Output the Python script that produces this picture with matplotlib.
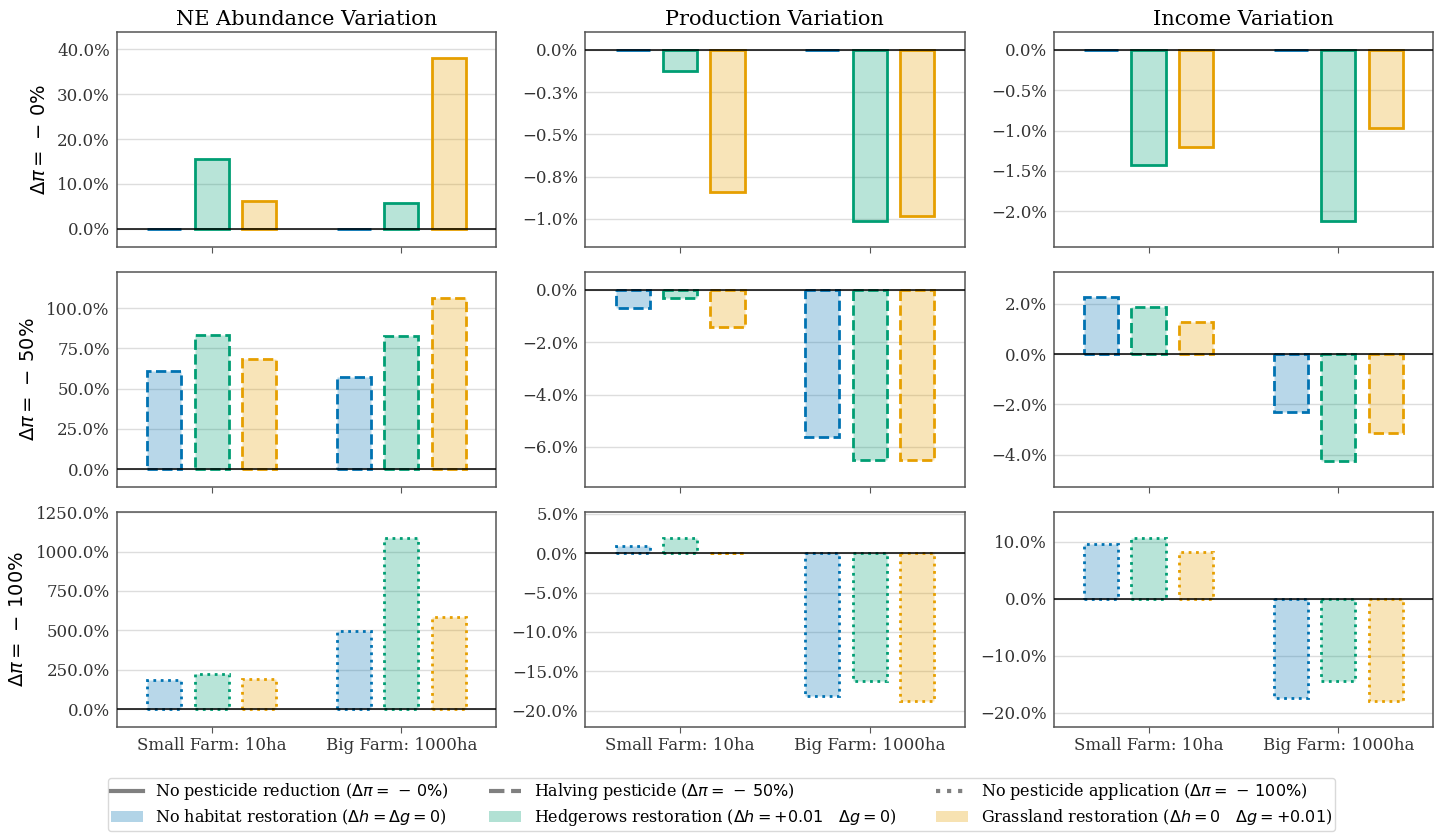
import numpy as np
import matplotlib
matplotlib.use('Agg')
from matplotlib import pyplot as plt
from matplotlib.lines import Line2D
from matplotlib.patches import Patch
from matplotlib.ticker import MultipleLocator, FuncFormatter
from decimal import Decimal, ROUND_HALF_UP

plt.rcParams['font.family'] = 'DejaVu Serif'
plt.rcParams['mathtext.fontset'] = 'dejavusans'

farms = ['Small Farm: 10ha', 'Big Farm: 1000ha']
metrics = ['NE Abundance Variation', 'Production Variation', 'Income Variation']
pesticide_labels = [r'$\Delta\pi =\,-\,0\%$', r'$\Delta\pi =\,-\,50\%$', r'$\Delta\pi =\,-\,100\%$']

# values in %, order: [small farm, big farm] for each habitat scenario
# NE abundance
ne_p0_none = [0.0, 0.0]
ne_p0_hedge = [15.5, 5.7]
ne_p0_grass = [6.2, 38.0]
ne_p50_none = [61.0, 57.1]
ne_p50_hedge = [83.2, 82.6]
ne_p50_grass = [68.3, 106.2]
ne_p100_none = [184.0, 496.0]
ne_p100_hedge = [220.0, 1085.0]
ne_p100_grass = [191.0, 583.0]
# production
prod_p0_none = [0.0, 0.0]
prod_p0_hedge = [-0.126, -1.012]
prod_p0_grass = [-0.842, -0.984]
prod_p50_none = [-0.675, -5.63]
prod_p50_hedge = [-0.29, -6.50]
prod_p50_grass = [-1.40, -6.51]
prod_p100_none = [0.93, -18.13]
prod_p100_hedge = [1.98, -16.27]
prod_p100_grass = [0.03, -18.73]
# income
inc_p0_none = [0.0, 0.0]
inc_p0_hedge = [-1.431, -2.117]
inc_p0_grass = [-1.204, -0.965]
inc_p50_none = [2.25, -2.32]
inc_p50_hedge = [1.88, -4.24]
inc_p50_grass = [1.28, -3.15]
inc_p100_none = [9.6, -17.5]
inc_p100_hedge = [10.7, -14.4]
inc_p100_grass = [8.25, -17.9]

data = [
    [[ne_p0_none, ne_p0_hedge, ne_p0_grass],
     [prod_p0_none, prod_p0_hedge, prod_p0_grass],
     [inc_p0_none, inc_p0_hedge, inc_p0_grass]],
    [[ne_p50_none, ne_p50_hedge, ne_p50_grass],
     [prod_p50_none, prod_p50_hedge, prod_p50_grass],
     [inc_p50_none, inc_p50_hedge, inc_p50_grass]],
    [[ne_p100_none, ne_p100_hedge, ne_p100_grass],
     [prod_p100_none, prod_p100_hedge, prod_p100_grass],
     [inc_p100_none, inc_p100_hedge, inc_p100_grass]],
]

ylims = [
    [(-4.1, 43.9), (-1.167, 0.105), (-2.442, 0.219)],
    [(-11.2, 122.6), (-7.53, 0.688), (-5.28, 3.26)],
    [(-114, 1252), (-22.07, 5.25), (-22.5, 15.2)],
]
ysteps = [
    [10, 0.25, 0.5],
    [25, 2, 2],
    [250, 5, 10],
]

colors = ['#0072B2', '#009E73', '#E69F00']
linestyles = ['-', '--', ':']
habitat_labels = [
    r'No habitat restoration ($\Delta h = \Delta g = 0$)',
    r'Hedgerows restoration ($\Delta h = +0.01 \quad \Delta g = 0$)',
    r'Grassland restoration ($\Delta h = 0 \quad \Delta g = +0.01$)',
]
pest_legend = [
    r'No pesticide reduction ($\Delta\pi =\,-\,0\%$)',
    r'Halving pesticide ($\Delta\pi =\,-\,50\%$)',
    r'No pesticide application ($\Delta\pi =\,-\,100\%$)',
]


def pct(v, pos):
    d = Decimal(repr(float(v))).quantize(Decimal('0.1'), rounding=ROUND_HALF_UP)
    if d == 0:
        return '0.0%'
    s = '{}%'.format(d)
    return s.replace('-', '\u2212')


fig, axes = plt.subplots(3, 3, figsize=(14.43, 8.36), dpi=100, sharex=True)
fig.subplots_adjust(left=0.0809, right=0.9931, top=0.9617, bottom=0.1304,
                    wspace=0.235, hspace=0.116)

x = np.arange(len(farms))
offsets = [-0.25, 0, 0.25]
bar_width = 0.18

for r in range(3):
    for c in range(3):
        ax = axes[r, c]
        for k in range(3):
            ax.bar(x + offsets[k], data[r][c][k], width=bar_width,
                   facecolor=matplotlib.colors.to_rgba(colors[k], 0.28),
                   edgecolor=colors[k], linewidth=2, linestyle=linestyles[r],
                   zorder=3)
        ax.axhline(0, color='black', linewidth=1.1, zorder=4)
        ax.set_ylim(*ylims[r][c])
        ax.set_xlim(-0.5, 1.5)
        ax.yaxis.set_major_locator(MultipleLocator(ysteps[r][c]))
        ax.yaxis.set_major_formatter(FuncFormatter(pct))
        ax.grid(axis='y', color='#dddddd', linewidth=1, zorder=0)
        ax.set_axisbelow(True)
        ax.tick_params(axis='y', length=0, labelsize=12, colors='#333333', pad=5)
        ax.tick_params(axis='x', labelsize=12, length=4, colors='#555555',
                       labelcolor='#333333')
        for sp in ax.spines.values():
            sp.set_color('#555555')
            sp.set_linewidth(1.1)
        if r == 0:
            ax.set_title(metrics[c], fontsize=15, pad=5)
        if c == 0:
            ax.set_ylabel(pesticide_labels[r], fontsize=14, labelpad=6)

axes[2, 0].set_xticks(x)
axes[2, 0].set_xticklabels(farms)

handles = []
for k in range(3):
    handles.append(Line2D([0], [0], color='gray', linewidth=3, linestyle=linestyles[k],
                          label=pest_legend[k]))
    handles.append(Patch(facecolor=matplotlib.colors.to_rgba(colors[k], 0.3),
                         edgecolor='none', label=habitat_labels[k]))

fig.legend(handles=handles, loc='lower center', ncol=3, bbox_to_anchor=(0.5, 0.0),
           prop={'family': 'DejaVu Serif', 'size': 11.5}, frameon=True,
           edgecolor='#d0d0d0', handlelength=2, columnspacing=2.5,
           labelspacing=0.3, borderpad=0.2, borderaxespad=0.3)

fig.savefig('out.png', dpi=100)
